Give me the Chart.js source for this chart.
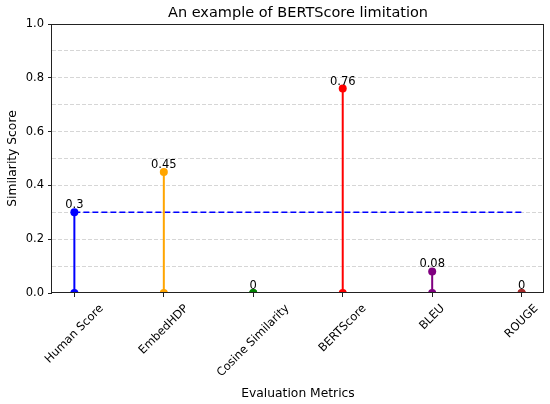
<!DOCTYPE html>
<html>
<head>
<meta charset="utf-8">
<script src="https://cdn.jsdelivr.net/npm/chart.js@4.4.1/dist/chart.umd.min.js"></script>
<style>
  html, body { margin: 0; padding: 0; background: #fff; }
  #c { display: block; }
</style>
</head>
<body>
<canvas id="c" width="550" height="404" style="width:550px;height:404px"></canvas>
<script>
// Stem plot: similarity score per evaluation metric, with the human score as a dashed reference.

const categories = ['Human Score', 'EmbedHDP', 'Cosine Similarity', 'BERTScore', 'BLEU', 'ROUGE'];
const scores = [0.3, 0.45, 0, 0.76, 0.08, 0];
const scoreLabels = ['0.3', '0.45', '0', '0.76', '0.08', '0'];
const humanScore = 0.3;
const yTickLabels = ['0.0', '0.2', '0.4', '0.6', '0.8', '1.0'];

const stemColors = ['blue', 'orange', 'green', 'red', 'purple', 'brown'];
const FONT = '"DejaVu Sans", sans-serif';

// one two-point line per metric: baseline 0 up to the score
const stemDatasets = scores.map((v, i) => ({
    type: 'line',
    data: [{ x: i, y: 0 }, { x: i, y: v }],
    borderColor: stemColors[i],
    backgroundColor: stemColors[i],
    borderWidth: 2,
    pointRadius: 4,
    pointBorderWidth: 0,
    pointBackgroundColor: stemColors[i],
    clip: 0,
}));

const humanLine = {
    type: 'line',
    data: [{ x: 0, y: humanScore }, { x: categories.length - 1, y: humanScore }],
    borderColor: 'blue',
    borderWidth: 1.5,
    borderDash: [6, 3],
    pointRadius: 0,
    clip: 0,
};

const decorations = {
    id: 'decorations',
    afterDraw(chart) {
        const ctx = chart.ctx;
        const area = chart.chartArea;
        const xs = chart.scales.x;
        const ys = chart.scales.y;
        ctx.save();

        // frame on all four sides
        ctx.strokeStyle = '#222';
        ctx.lineWidth = 1;
        ctx.strokeRect(Math.round(area.left) - 0.5, Math.round(area.top) + 0.5,
            Math.round(area.right - area.left), Math.round(area.bottom - area.top) - 1);

        ctx.fillStyle = '#000';

        // value labels above each stem
        ctx.font = '11.5px ' + FONT;
        ctx.textAlign = 'center';
        ctx.textBaseline = 'alphabetic';
        scores.forEach((v, i) => {
            ctx.fillText(scoreLabels[i], xs.getPixelForValue(i), ys.getPixelForValue(v) - 4);
        });

        // title
        ctx.font = '14.5px ' + FONT;
        ctx.fillText('An example of BERTScore limitation', (area.left + area.right) / 2, 17);

        // rotated category labels, centred under each tick
        ctx.font = '11.5px ' + FONT;
        ctx.textBaseline = 'middle';
        const fh = 11.5 * 0.9;
        categories.forEach((name, i) => {
            const w = ctx.measureText(name).width;
            const box = (w + fh) * Math.SQRT1_2;
            ctx.save();
            ctx.translate(xs.getPixelForValue(i), area.bottom + 10 + box / 2);
            ctx.rotate(-Math.PI / 4);
            ctx.fillText(name, 0, 0);
            ctx.restore();
        });

        // axis titles
        ctx.font = '12.3px ' + FONT;
        ctx.textBaseline = 'alphabetic';
        ctx.fillText('Evaluation Metrics', (area.left + area.right) / 2, 397);
        ctx.save();
        ctx.translate(13, (area.top + area.bottom) / 2);
        ctx.rotate(-Math.PI / 2);
        ctx.textBaseline = 'middle';
        ctx.fillText('Similarity Score', 0, 0);
        ctx.restore();

        ctx.restore();
    }
};

new Chart(document.getElementById('c').getContext('2d'), {
    type: 'line',
    data: { datasets: [...stemDatasets, humanLine] },
    options: {
        responsive: false,
        animation: false,
        layout: { padding: { top: 24, right: 6, left: 0, bottom: 0 } },
        plugins: {
            legend: { display: false },
            tooltip: { enabled: false },
        },
        scales: {
            x: {
                type: 'linear',
                min: -0.25,
                max: categories.length - 0.75,
                afterBuildTicks: s => { s.ticks = categories.map((c, i) => ({ value: i })); },
                afterFit: s => { s.height = 111; },
                ticks: { callback: () => '' },
                grid: {
                    drawOnChartArea: false,
                    drawTicks: true,
                    tickLength: 4,
                    tickColor: '#222',
                },
                border: { display: false },
            },
            y: {
                type: 'linear',
                min: 0,
                max: 1,
                ticks: {
                    stepSize: 0.1,
                    padding: 4,
                    color: '#000',
                    font: { family: FONT, size: 11.5 },
                    callback: (value, index) => (index % 2 === 0 ? yTickLabels[index / 2] : ''),
                },
                afterFit: s => { s.width = 52; },
                grid: {
                    color: c => (c.index === 0 || c.index === 10 ? 'rgba(0,0,0,0)' : '#d6d6d6'),
                    lineWidth: 1,
                    tickLength: 4,
                    tickColor: c => (c.index % 2 === 0 ? '#222' : 'rgba(0,0,0,0)'),
                    tickBorderDash: [],
                },
                border: { display: false, dash: [4, 2] },
            },
        },
    },
    plugins: [decorations],
});
</script>
</body>
</html>
